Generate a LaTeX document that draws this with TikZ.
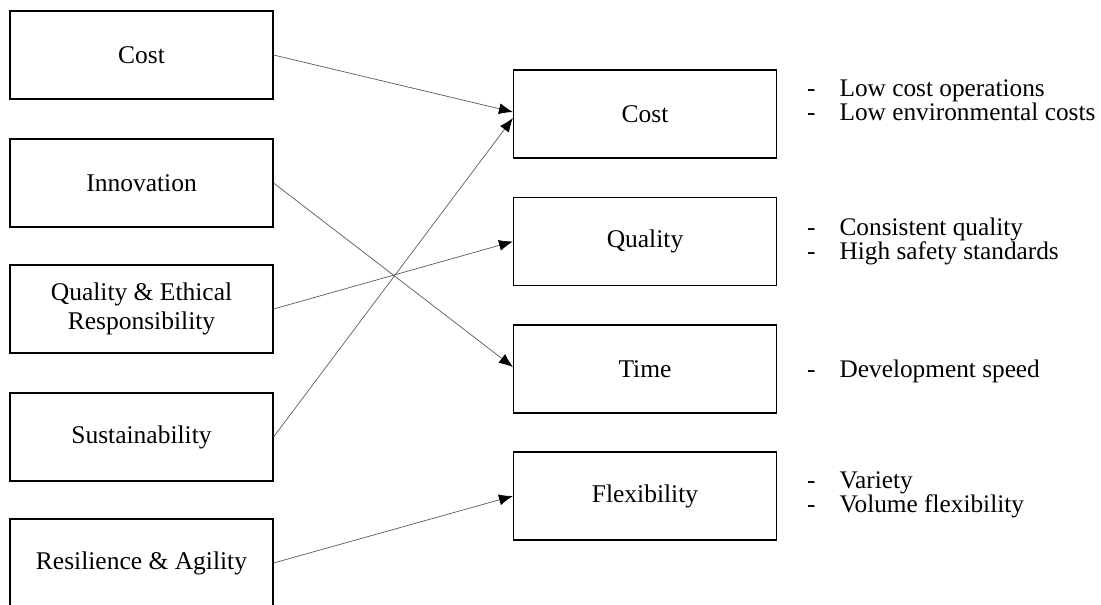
\documentclass[tikz,border=0pt]{standalone}
\usepackage{fontspec}
\setmainfont{Liberation Serif}
\usetikzlibrary{arrows.meta}

\begin{document}
\begin{tikzpicture}[x=1pt,y=-1pt]
\tikzset{box/.style = {shape=rectangle,draw,line width=1.1pt,minimum width=263pt,minimum height=88pt,align=center,font=\fontsize{25.5}{29}\selectfont}}
\tikzset{edge/.style = {-{Latex[length=14pt,width=11pt,color=black]},draw=black!65,line width=0.7pt}}
\tikzset{list/.style = {anchor=base west,inner sep=0pt,font=\fontsize{25.3}{23.5}\selectfont}}

\clip (0,0) rectangle (1101,605);

\node[box] (cost) at (141.5,55) {Cost};
\node[box] (innov) at (141.5,183) {Innovation};
\node[box] (qual) at (141.5,309) {Quality \& Ethical\\Responsibility};
\node[box] (sust) at (141.5,437) {Sustainability};
\node[box] (resil) at (141.5,563) {Resilience \& Agility};

\node[box] (rcost) at (645,114) {Cost};
\node[box] (rqual) at (645,241.5) {Quality};
\node[box] (rtime) at (645,369) {Time};
\node[box] (rflex) at (645,496) {Flexibility};

\node[list] (lcost) at (807,96) {\begin{tabular}[t]{@{}l@{\hspace{24pt}}l@{}}-&Low cost operations\\-&Low environmental costs\end{tabular}};
\node[list] (lqual) at (807,235) {\begin{tabular}[t]{@{}l@{\hspace{24pt}}l@{}}-&Consistent quality\\-&High safety standards\end{tabular}};
\node[list] (ltime) at (807,377) {\begin{tabular}[t]{@{}l@{\hspace{24pt}}l@{}}-&Development speed\end{tabular}};
\node[list] (lflex) at (807,488) {\begin{tabular}[t]{@{}l@{\hspace{24pt}}l@{}}-&Variety\\-&Volume flexibility\end{tabular}};

\draw[edge] (cost.east) to ([yshift=2pt]rcost.west);
\draw[edge] (innov.east) to ([yshift=2pt]rtime.west);
\draw[edge] (qual.east) to (rqual.west);
\draw[edge] (sust.east) to ([yshift=-4pt]rcost.west);
\draw[edge] (resil.east) to (rflex.west);
\end{tikzpicture}
\end{document}
